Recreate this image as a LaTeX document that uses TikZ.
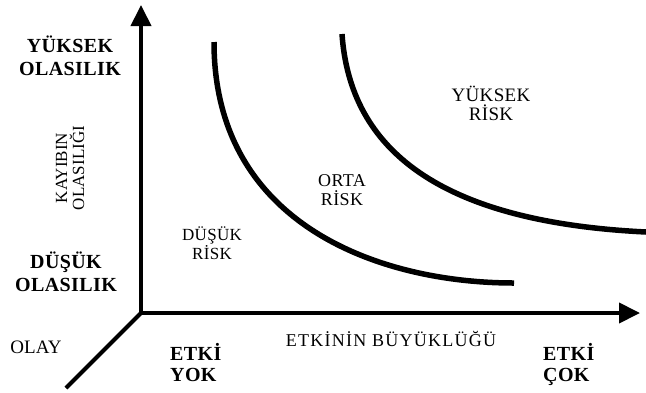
\documentclass[tikz,border=0pt]{standalone}
\usepackage{fontspec}
\setmainfont{Liberation Serif}
\usetikzlibrary{arrows.meta}
\begin{document}
\begin{tikzpicture}[x=1pt,y=-1pt,
  axisline/.style={line width=4pt},
  riskcurve/.style={line width=5.5pt},
  boldlab/.style={font=\fontsize{20}{23}\selectfont\bfseries\addfontfeatures{LetterSpace=2}, align=center, inner sep=0pt},
  boldleft/.style={font=\fontsize{20}{21}\selectfont\bfseries\addfontfeatures{LetterSpace=2}, align=left, inner sep=0pt, anchor=north west},
  risklab/.style={font=\fontsize{#1}{19}\selectfont\addfontfeatures{LetterSpace=2}, align=center, inner sep=0pt},
  axlab/.style={font=\fontsize{18}{18}\selectfont\addfontfeatures{LetterSpace=7}, inner sep=0pt},
  plainlab/.style={font=\fontsize{19}{20}\selectfont, inner sep=0pt},
  sidelab/.style={font=\fontsize{17}{17}\selectfont, align=center, inner sep=0pt, rotate=90}
]
\useasboundingbox (0,0) rectangle (646,392);
% axes
\coordinate (O) at (141,313);
\coordinate (ytip) at (141,5);
\coordinate (xtip) at (640,313);
\coordinate (zend) at (66,388);
\draw[axisline,-{Triangle[length=21pt,width=20pt]}] (O) -- (ytip);
\draw[axisline,-{Triangle[length=21pt,width=20pt]}] (O) -- (xtip);
\draw[axisline] (O) -- (zend);
% curves
\coordinate (c1s) at (214,42);
\coordinate (c1e) at (514,283);
\coordinate (c2s) at (342,34);
\coordinate (c2e) at (646,232);
\draw[riskcurve] (c1s) .. controls (214,225) and (380,283) .. (c1e);
\draw[riskcurve] (c2s) .. controls (350,150) and (440,222) .. (c2e);
% labels
\node[boldlab] (yo) at (70,56) {YÜKSEK\\OLASILIK};
\node[boldlab] (do) at (66,272) {DÜŞÜK\\OLASILIK};
\node[plainlab] (olay) at (36,347) {OLAY};
\node[boldleft] (ey) at (170,343) {ETKİ\\YOK};
\node[boldleft] (ec) at (543,343) {ETKİ\\ÇOK};
\node[axlab] (eb) at (391,339) {ETKİNİN BÜYÜKLÜĞÜ};
\node[sidelab] (ko) at (70,168) {KAYIBIN\\OLASILIĞI};
\node[risklab=17] (dr) at (212,243) {DÜŞÜK\\RİSK};
\node[risklab=18] (or) at (342,190) {ORTA\\RİSK};
\node[risklab=19] (yr) at (491,103) {YÜKSEK\\RİSK};
\end{tikzpicture}
\end{document}
